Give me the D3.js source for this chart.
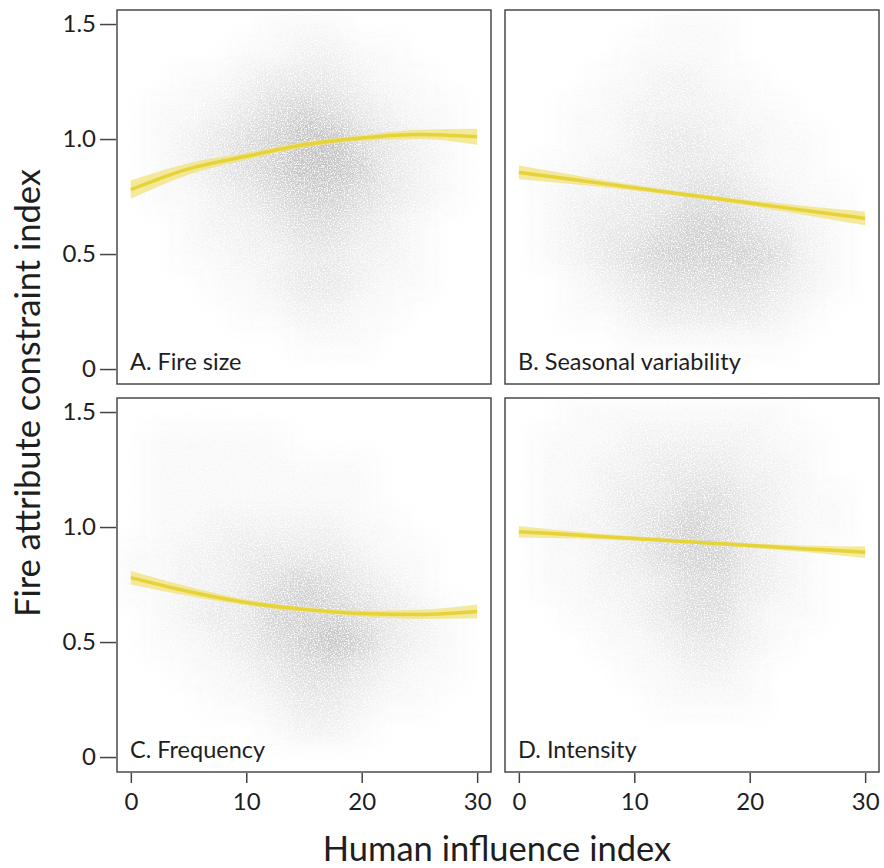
<!DOCTYPE html>
<html>
<head>
<meta charset="utf-8">
<script src="https://cdn.jsdelivr.net/npm/d3@7/dist/d3.min.js"></script>
<style>
  html, body { margin: 0; padding: 0; background: #fff; }
  svg { display: block; font-family: Lato, "Noto Sans", sans-serif; }
</style>
</head>
<body>
<svg id="chart" width="884" height="868"></svg>
<script>
// ---- data -------------------------------------------------------------
const panelTitles = ["A. Fire size", "B. Seasonal variability", "C. Frequency", "D. Intensity"];
const xTickValues = [0, 10, 20, 30];
const yTickValues = [0, 0.5, 1.0, 1.5];
const yTickLabels = ["0", "0.5", "1.0", "1.5"];

// fitted response (human influence index -> constraint index)
const fitX = [0, 5, 10, 15, 20, 25, 30];
const fitA = [0.78, 0.87, 0.925, 0.975, 1.005, 1.02, 1.01];
const fitB = [0.855, 0.822, 0.788, 0.755, 0.722, 0.688, 0.655];
const fitC = [0.78, 0.72, 0.672, 0.642, 0.624, 0.62, 0.633];
const fitD = [0.98, 0.965, 0.95, 0.935, 0.92, 0.905, 0.89];
// half-width of the confidence band
const bandA = [0.04, 0.025, 0.015, 0.012, 0.012, 0.02, 0.035];
const bandB = [0.03, 0.02, 0.012, 0.01, 0.012, 0.02, 0.03];
const bandC = [0.03, 0.02, 0.012, 0.01, 0.012, 0.02, 0.03];
const bandD = [0.025, 0.015, 0.01, 0.008, 0.01, 0.015, 0.025];

// point-cloud density (relative counts) on a grid of cells
const gridX = [0, 2.5, 5, 7.5, 10, 12.5, 15, 17.5, 20, 22.5, 25, 27.5, 30];
const gridY = [1.5, 1.375, 1.25, 1.125, 1.0, 0.875, 0.75, 0.625, 0.5, 0.375, 0.25, 0.125, 0];
const densityA = [
  [0,0,0,0,0,1,1,1,0,0,0,0,0],
  [0,0,0,0,1,1,2,2,1,1,0,0,0],
  [0,0,1,1,2,3,3,3,2,1,1,0,0],
  [0,1,1,2,3,4,5,4,3,2,1,1,0],
  [0,1,2,3,4,5,6,6,4,3,2,1,0],
  [0,1,2,3,4,5,6,6,5,3,2,1,0],
  [0,1,1,2,3,4,5,5,4,3,2,1,0],
  [0,0,1,2,2,3,4,4,3,2,1,0,0],
  [0,0,1,1,2,2,3,3,2,2,1,0,0],
  [0,0,0,1,1,2,3,3,2,1,1,0,0],
  [0,0,0,0,1,1,2,2,1,1,0,0,0],
  [0,0,0,0,0,0,1,1,1,0,0,0,0],
  [0,0,0,0,0,0,0,0,0,0,0,0,0]
];
const densityB = [
  [0,0,0,0,0,1,1,1,0,0,0,0,0],
  [0,0,0,0,1,1,1,1,0,0,0,0,0],
  [0,0,0,1,1,2,2,1,1,0,0,0,0],
  [0,0,1,1,2,2,2,2,1,1,0,0,0],
  [0,0,1,1,2,3,3,2,2,1,1,0,0],
  [0,1,1,2,2,3,3,3,2,1,1,0,0],
  [0,1,2,2,3,3,4,4,3,2,1,1,0],
  [0,1,2,3,3,4,5,5,4,3,2,1,0],
  [0,1,2,3,4,5,5,5,5,4,2,1,0],
  [0,0,1,2,3,4,4,4,4,3,2,1,0],
  [0,0,1,1,2,3,3,3,3,2,1,0,0],
  [0,0,0,0,1,1,1,1,1,1,0,0,0],
  [0,0,0,0,0,0,0,0,0,0,0,0,0]
];
const densityC = [
  [0,0,0,0,0,0,0,0,0,0,0,0,0],
  [0,1,1,1,1,1,0,0,0,0,0,0,0],
  [0,1,1,1,1,1,1,1,1,0,0,0,0],
  [0,1,1,1,1,1,1,1,1,0,0,0,0],
  [0,1,1,2,2,2,2,2,1,1,0,0,0],
  [1,1,2,2,3,3,3,3,2,1,1,0,0],
  [1,1,2,2,3,4,5,4,3,2,1,0,0],
  [0,1,2,3,3,5,5,5,4,3,2,1,0],
  [0,1,1,2,3,4,5,6,5,3,2,1,0],
  [0,0,1,1,2,3,4,4,3,2,1,1,0],
  [0,0,0,1,1,2,3,3,2,1,1,0,0],
  [0,0,0,0,0,1,2,2,1,0,0,0,0],
  [0,0,0,0,0,0,0,0,0,0,0,0,0]
];
const densityD = [
  [0,0,1,1,1,1,1,1,1,1,0,0,0],
  [0,1,1,1,2,2,2,2,2,1,1,0,0],
  [0,1,1,2,2,3,3,3,2,2,1,0,0],
  [0,1,1,2,3,3,4,4,3,2,1,1,0],
  [0,1,2,2,3,4,5,4,3,2,1,1,0],
  [0,1,1,2,3,4,5,5,3,2,1,0,0],
  [0,1,1,2,2,3,4,4,3,2,1,0,0],
  [0,0,1,1,2,3,4,4,2,1,1,0,0],
  [0,0,0,1,1,2,3,3,2,1,0,0,0],
  [0,0,0,0,1,1,2,2,1,0,0,0,0],
  [0,0,0,0,0,1,1,1,1,0,0,0,0],
  [0,0,0,0,0,0,0,0,0,0,0,0,0],
  [0,0,0,0,0,0,0,0,0,0,0,0,0]
];

const panels = [
  { title: panelTitles[0], fit: fitA, band: bandA, density: densityA, col: 0, row: 0 },
  { title: panelTitles[1], fit: fitB, band: bandB, density: densityB, col: 1, row: 0 },
  { title: panelTitles[2], fit: fitC, band: bandC, density: densityC, col: 0, row: 1 },
  { title: panelTitles[3], fit: fitD, band: bandD, density: densityD, col: 1, row: 1 }
];

// ---- layout -----------------------------------------------------------
const colLeft = [117, 505];
const rowTop = [10, 398];
const boxW = 374, boxH = 374;
const xDomain = [-1.2, 31.2];
const yDomain = [-0.065, 1.561];
const cellW = 2.5, cellH = 0.125;
const shade = d3.scalePow().exponent(1.3).domain([0, 6]).range([0, 0.42]);

const svg = d3.select("#chart");
const defs = svg.append("defs");

// soft cloud with a fine speckle so it reads as many faint points
const blur = defs.append("filter").attr("id", "cloudBlur")
  .attr("x", "-20%").attr("y", "-20%").attr("width", "140%").attr("height", "140%");
blur.append("feGaussianBlur").attr("stdDeviation", 10).attr("result", "soft");
blur.append("feTurbulence").attr("type", "fractalNoise").attr("baseFrequency", 0.7)
  .attr("numOctaves", 2).attr("seed", 5).attr("result", "noise");
blur.append("feColorMatrix").attr("in", "noise").attr("type", "matrix")
  .attr("values", "0 0 0 0 0  0 0 0 0 0  0 0 0 0 0  0 0 0 -3 2.3").attr("result", "grain");
blur.append("feComposite").attr("in", "soft").attr("in2", "grain").attr("operator", "in");

panels.forEach((p, i) => {
  const x0 = colLeft[p.col], y0 = rowTop[p.row];
  const x = d3.scaleLinear().domain(xDomain).range([x0, x0 + boxW]);
  const y = d3.scaleLinear().domain(yDomain).range([y0 + boxH, y0]);

  defs.append("clipPath").attr("id", "clip" + i)
    .append("rect").attr("x", x0).attr("y", y0).attr("width", boxW).attr("height", boxH);

  const g = svg.append("g");

  // point cloud
  const cells = [];
  p.density.forEach((row, r) => row.forEach((v, c) => {
    if (v > 0) cells.push({ gx: gridX[c], gy: gridY[r], v });
  }));
  g.append("g").attr("clip-path", `url(#clip${i})`)
    .append("g").attr("filter", "url(#cloudBlur)")
    .selectAll("rect").data(cells).join("rect")
      .attr("x", d => x(d.gx - cellW / 2))
      .attr("y", d => y(d.gy + cellH / 2))
      .attr("width", d => x(d.gx + cellW / 2) - x(d.gx - cellW / 2))
      .attr("height", d => y(d.gy - cellH / 2) - y(d.gy + cellH / 2))
      .attr("fill", "#6f6f6f")
      .attr("fill-opacity", d => shade(d.v));

  // confidence band and fitted line
  const pts = fitX.map((xv, k) => ({ x: xv, y: p.fit[k], b: p.band[k] }));
  g.append("path").datum(pts)
    .attr("d", d3.area().curve(d3.curveMonotoneX)
      .x(d => x(d.x)).y0(d => y(d.y - d.b)).y1(d => y(d.y + d.b)))
    .attr("fill", "#f1e27a").attr("fill-opacity", 0.75);
  g.append("path").datum(pts)
    .attr("d", d3.line().curve(d3.curveMonotoneX).x(d => x(d.x)).y(d => y(d.y)))
    .attr("fill", "none").attr("stroke", "#e6d33a").attr("stroke-width", 3.5);

  // frame
  g.append("rect").attr("x", x0).attr("y", y0).attr("width", boxW).attr("height", boxH)
    .attr("fill", "none").attr("stroke", "#4a4a4a").attr("stroke-width", 1.5);

  // panel title
  g.append("text").attr("x", x0 + 13).attr("y", y0 + boxH - 14)
    .attr("font-size", 23.5).attr("fill", "#1e1e1e").text(p.title);

  // y axis on the left column
  if (p.col === 0) {
    const ya = d3.axisLeft(y).tickValues(yTickValues)
      .tickFormat((d, k) => yTickLabels[k]).tickSize(16).tickPadding(4);
    const ag = g.append("g").attr("transform", `translate(${x0 - 1},0)`).call(ya);
    ag.select(".domain").remove();
    ag.selectAll("line").attr("stroke", "#444").attr("stroke-width", 1.5);
    ag.selectAll("text").attr("font-size", 24).attr("fill", "#1e1e1e")
      .attr("font-family", "Lato, sans-serif");
  }
  // x axis on the bottom row
  if (p.row === 1) {
    const xa = d3.axisBottom(x).tickValues(xTickValues).tickSize(10).tickPadding(10);
    const ag = g.append("g").attr("transform", `translate(0,${y0 + boxH + 1})`).call(xa);
    ag.select(".domain").remove();
    ag.selectAll("line").attr("stroke", "#444").attr("stroke-width", 1.5);
    ag.selectAll("text").attr("font-size", 24).attr("fill", "#1e1e1e")
      .attr("font-family", "Lato, sans-serif");
  }
});

// axis titles
svg.append("text").attr("x", 497).attr("y", 861).attr("text-anchor", "middle")
  .attr("font-size", 34.5).attr("fill", "#1e1e1e").text("Human influence index");
svg.append("text").attr("transform", "translate(40,393) rotate(-90)").attr("text-anchor", "middle")
  .attr("font-size", 34.5).attr("fill", "#1e1e1e").text("Fire attribute constraint index");
</script>
</body>
</html>
